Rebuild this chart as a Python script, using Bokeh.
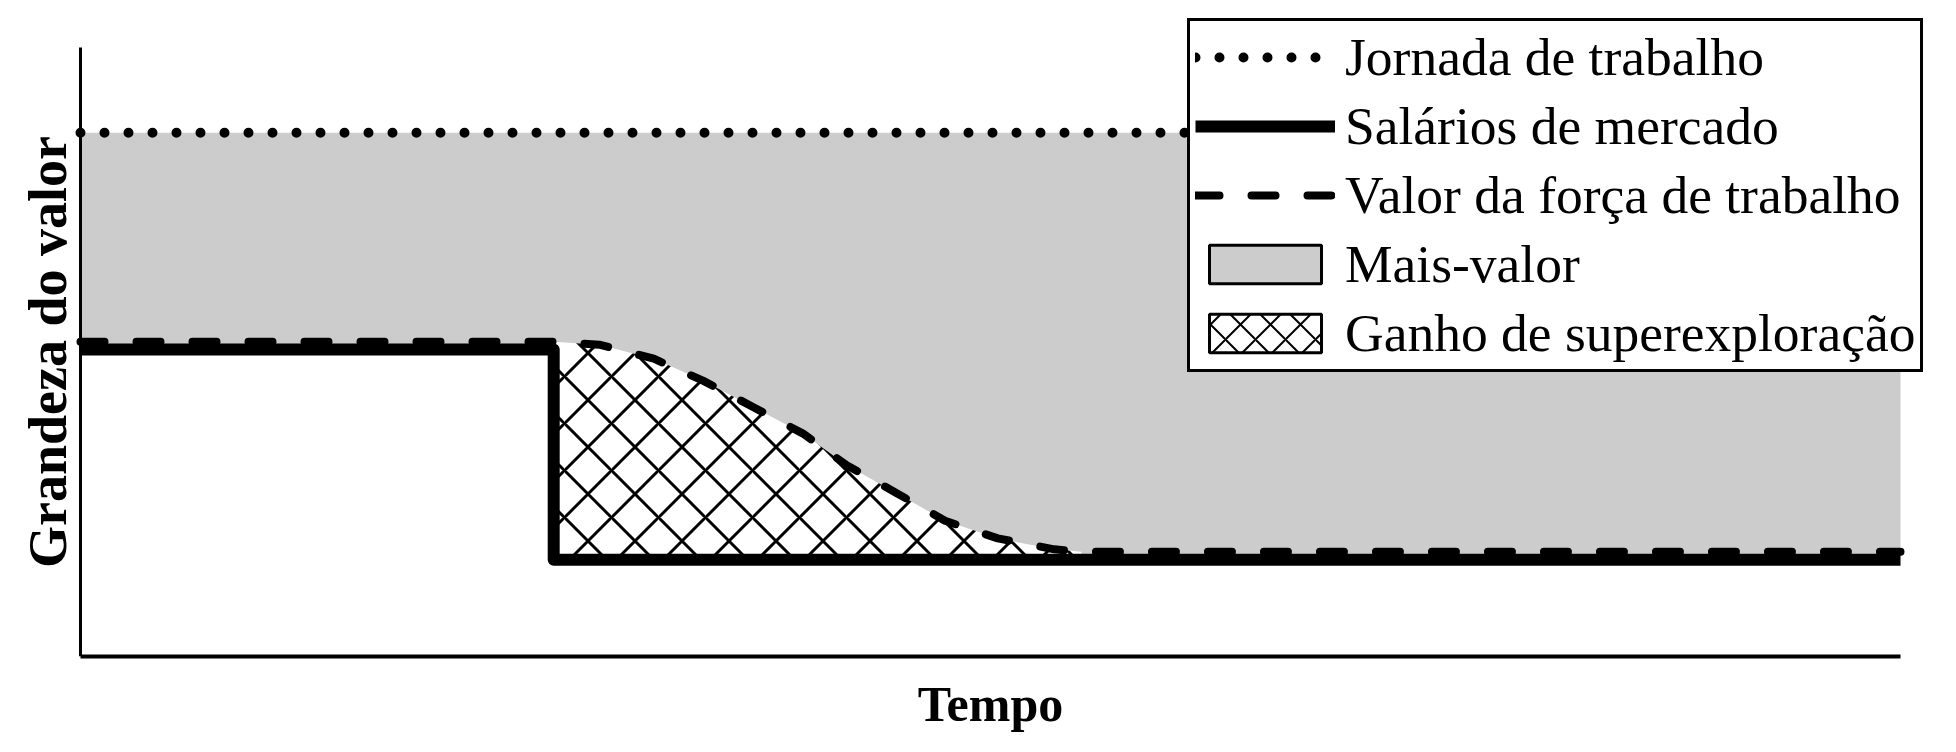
import numpy as np
from bokeh.plotting import figure
from bokeh.models import Range1d, FixedTicker, Legend, LegendItem
from bokeh.embed import file_html
from bokeh.resources import INLINE

# ---- data ----
jornada_t = [0, 100]
jornada = [86.0, 86.0]

wage_t = [0, 26, 26, 100]
wage = [50.4, 50.4, 15.9, 15.9]

value_t = [0, 26, 28.5, 31.5, 34.2, 37.0, 39.7, 42.1, 44.8, 47.5, 50.4, 53.5, 55.0, 100]
value = [51.7, 51.7, 51.2, 48.9, 45.3, 40.9, 36.6, 31.4, 26.9, 22.3, 19.4, 17.6, 17.2, 17.2]

labels = ["Jornada de trabalho", "Salários de mercado", "Valor da força de trabalho",
          "Mais-valor", "Ganho de superexploração"]

# superexploitation segment: after the drop, until the value curve reaches its new level
i0 = value_t.index(26)
i1 = value_t.index(55.0) + 1
hatch_t = value_t[i0:i1]
hatch_top = value[i0:i1]
hatch_bottom = [wage[-1]] * len(hatch_t)

p = figure(width=1956, height=748, output_backend="svg", toolbar_location=None,
           x_range=Range1d(-3.0769, 103.077), y_range=Range1d(0, 105.747),
           min_border_left=24, min_border_right=0, min_border_top=12, min_border_bottom=92)
p.outline_line_color = None
p.xgrid.visible = False
p.ygrid.visible = False
p.background_fill_color = "white"
p.border_fill_color = "white"

# grey surplus value area: between wages and the working day
p.varea(x=wage_t, y1=wage, y2=[jornada[0]] * len(wage_t), fill_color="#cccccc")
# hatched superexploitation gain
p.varea(x=hatch_t, y1=hatch_bottom, y2=hatch_top, fill_color="white",
        hatch_pattern="x", hatch_color="black", hatch_scale=47, hatch_weight=3)

r_jorn = p.line(jornada_t, jornada, line_color="black", line_width=10,
                line_dash="0 24", line_cap="round")
r_wage = p.line(wage_t, wage, line_color="black", line_width=12, line_join="round")
r_val = p.line(value_t, value, line_color="black", line_width=8,
               line_dash="24 32", line_cap="round", line_join="round")

# legend-only swatches (no visible data)
r_mv = p.patch(x=[np.nan], y=[np.nan], fill_color="#cccccc", line_color="black", line_width=3)
r_hatch = p.patch(x=[np.nan], y=[np.nan], fill_color="white", line_color="black", line_width=3,
                  hatch_pattern="x", hatch_color="black", hatch_scale=30, hatch_weight=2)

legend = Legend(items=[LegendItem(label=labels[0], renderers=[r_jorn]),
                       LegendItem(label=labels[1], renderers=[r_wage]),
                       LegendItem(label=labels[2], renderers=[r_val]),
                       LegendItem(label=labels[3], renderers=[r_mv]),
                       LegendItem(label=labels[4], renderers=[r_hatch])],
                location=(1163, 284))
legend.glyph_width = 140
legend.glyph_height = 48
legend.label_standoff = 10
legend.padding = 5
legend.spacing = 7
legend.margin = 0
legend.border_line_color = "black"
legend.border_line_alpha = 1.0
legend.border_line_width = 3
legend.background_fill_color = "white"
legend.background_fill_alpha = 1.0
legend.label_text_font = "Liberation Serif"
legend.label_text_font_size = "53.5px"
legend.label_text_color = "black"
p.add_layout(legend, "center")

for ax in (p.xaxis[0], p.yaxis[0]):
    ax.ticker = FixedTicker(ticks=[])
    ax.bounds = (0, 100)
    ax.major_tick_out = 0
    ax.major_tick_in = 0
    ax.minor_tick_out = 0
    ax.minor_tick_in = 0
    ax.major_label_standoff = 0
    ax.axis_line_color = "black"
    ax.axis_label_text_font = "Liberation Serif"
    ax.axis_label_text_font_style = "bold"
    ax.axis_label_text_color = "black"

p.yaxis.fixed_location = 0

p.xaxis.axis_label = "Tempo"
p.xaxis.axis_label_text_font_size = "50px"
p.xaxis.axis_line_width = 4
p.xaxis.axis_label_standoff = 19

p.yaxis.axis_label = "Grandeza do valor"
p.yaxis.axis_label_text_font_size = "54px"
p.yaxis.axis_line_width = 3
p.yaxis.axis_label_standoff = 3

open("out.html", "w").write(file_html(p, INLINE))
